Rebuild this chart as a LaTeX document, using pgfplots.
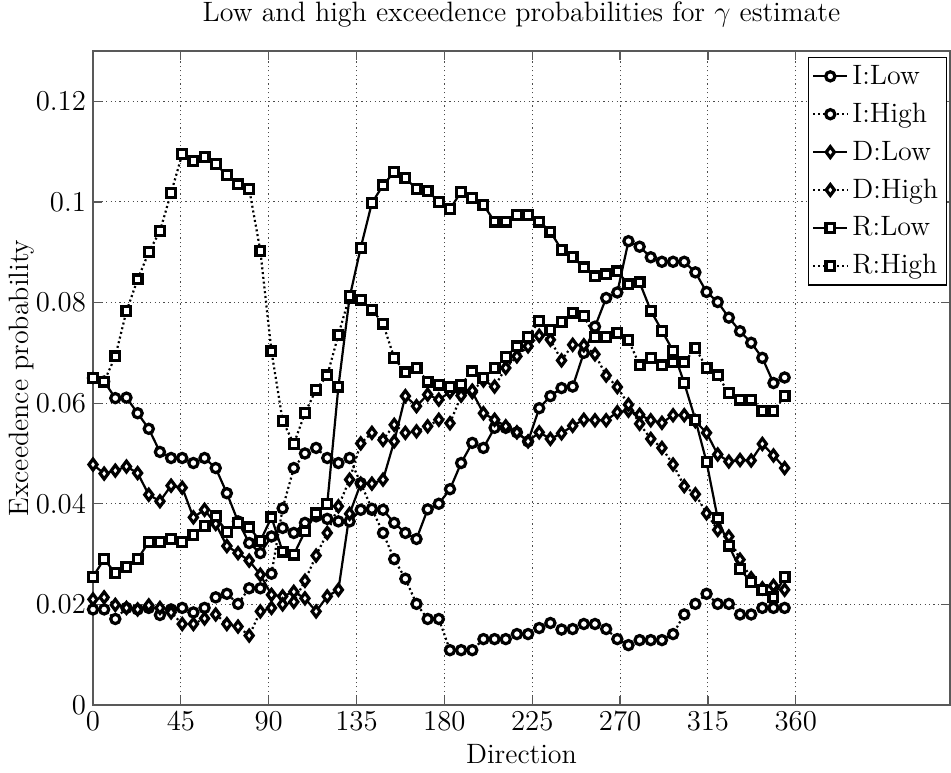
\documentclass[border=0pt]{standalone}
\usepackage{pgfplots}
\usepackage{pgfplotstable}
\pgfplotsset{compat=1.18}
\begin{document}
\pgfplotstableread{
x IL IH DL DH RL RH
0 0.0650 0.0190 0.0478 0.0210 0.0255 0.0650
5.71 0.0643 0.0190 0.0460 0.0214 0.0290 0.0643
11.43 0.0610 0.0171 0.0466 0.0199 0.0262 0.0693
17.14 0.0611 0.0193 0.0474 0.0193 0.0274 0.0783
22.86 0.0580 0.0190 0.0461 0.0190 0.0290 0.0846
28.57 0.0549 0.0193 0.0418 0.0198 0.0324 0.0900
34.29 0.0503 0.0179 0.0405 0.0193 0.0324 0.0942
40 0.0491 0.0190 0.0436 0.0184 0.0330 0.1018
45.71 0.0491 0.0193 0.0432 0.0161 0.0324 0.1095
51.43 0.0481 0.0184 0.0373 0.0161 0.0338 0.1081
57.14 0.0491 0.0193 0.0388 0.0172 0.0356 0.1089
62.86 0.0471 0.0214 0.0360 0.0180 0.0375 0.1075
68.57 0.0421 0.0221 0.0316 0.0161 0.0344 0.1053
74.29 0.0365 0.0201 0.0302 0.0156 0.0362 0.1035
80 0.0322 0.0232 0.0287 0.0138 0.0353 0.1026
85.71 0.0302 0.0232 0.0259 0.0186 0.0326 0.0903
91.43 0.0335 0.0261 0.0219 0.0193 0.0373 0.0703
97.14 0.0352 0.0391 0.0216 0.0200 0.0305 0.0565
102.86 0.0342 0.0471 0.0225 0.0205 0.0299 0.0519
108.57 0.0362 0.0500 0.0212 0.0247 0.0345 0.0580
114.29 0.0375 0.0511 0.0186 0.0297 0.0381 0.0627
120 0.0370 0.0491 0.0216 0.0342 0.0400 0.0655
125.71 0.0365 0.0481 0.0229 0.0395 0.0633 0.0736
131.43 0.0365 0.0491 0.0380 0.0448 0.0810 0.0813
137.14 0.0388 0.0441 0.0440 0.0520 0.0909 0.0806
142.86 0.0388 0.0390 0.0440 0.0541 0.0998 0.0786
148.57 0.0388 0.0342 0.0448 0.0527 0.1033 0.0758
154.29 0.0362 0.0290 0.0524 0.0557 0.1060 0.0690
160 0.0342 0.0251 0.0614 0.0541 0.1047 0.0661
165.71 0.0330 0.0201 0.0594 0.0544 0.1026 0.0670
171.43 0.0389 0.0171 0.0617 0.0554 0.1022 0.0643
177.14 0.0400 0.0171 0.0607 0.0567 0.1000 0.0637
182.86 0.0429 0.0109 0.0622 0.0560 0.0986 0.0632
188.57 0.0481 0.0109 0.0622 0.0615 0.1020 0.0637
194.29 0.0521 0.0109 0.0622 0.0625 0.1008 0.0663
200 0.0511 0.0131 0.0580 0.0645 0.0994 0.0650
205.71 0.0551 0.0131 0.0567 0.0633 0.0961 0.0670
211.43 0.0551 0.0131 0.0554 0.0670 0.0961 0.0692
217.14 0.0542 0.0141 0.0542 0.0693 0.0974 0.0713
222.86 0.0524 0.0141 0.0524 0.0713 0.0974 0.0732
228.57 0.0590 0.0153 0.0542 0.0734 0.0961 0.0763
234.29 0.0614 0.0163 0.0529 0.0726 0.0941 0.0746
240 0.0630 0.0150 0.0540 0.0685 0.0905 0.0761
245.71 0.0633 0.0151 0.0555 0.0716 0.0890 0.0780
251.43 0.0700 0.0161 0.0567 0.0715 0.0870 0.0773
257.14 0.0752 0.0161 0.0566 0.0697 0.0852 0.0732
262.86 0.0809 0.0151 0.0566 0.0655 0.0856 0.0732
268.57 0.0820 0.0131 0.0582 0.0632 0.0862 0.0740
274.29 0.0922 0.0119 0.0585 0.0597 0.0836 0.0726
280 0.0911 0.0129 0.0577 0.0559 0.0840 0.0675
285.71 0.0890 0.0129 0.0566 0.0529 0.0784 0.0690
291.43 0.0881 0.0129 0.0561 0.0511 0.0744 0.0675
297.14 0.0881 0.0141 0.0576 0.0478 0.0704 0.0681
302.86 0.0881 0.0180 0.0576 0.0435 0.0640 0.0681
308.57 0.0860 0.0201 0.0564 0.0419 0.0567 0.0710
314.29 0.0821 0.0221 0.0541 0.0381 0.0483 0.0670
320 0.0801 0.0201 0.0498 0.0348 0.0371 0.0655
325.71 0.0770 0.0201 0.0484 0.0335 0.0317 0.0620
331.43 0.0743 0.0180 0.0487 0.0289 0.0270 0.0607
337.14 0.0720 0.0180 0.0486 0.0252 0.0244 0.0607
342.86 0.0690 0.0193 0.0519 0.0232 0.0229 0.0585
348.57 0.0640 0.0193 0.0496 0.0237 0.0214 0.0585
354.29 0.0651 0.0193 0.0471 0.0229 0.0255 0.0614
}\data
\begin{tikzpicture}
\useasboundingbox (-46.5pt,-33.5pt) rectangle (429pt,352.5pt);
\begin{axis}[
  at={(0pt,0pt)}, anchor=south west,
  scale only axis, width=428.5pt, height=327pt,
  xmin=0, xmax=439, ymin=0, ymax=0.13,
  xtick={0,45,...,360},
  ytick={0,0.02,0.04,0.06,0.08,0.1,0.12},
  scaled y ticks=false,
  yticklabel style={/pgf/number format/fixed},
  tick align=inside,
  major tick length=4.5pt,
  axis line style={black!65, line width=0.6pt},
  every tick/.style={black!65, line width=0.6pt},
  grid=major,
  major grid style={black!70, line width=0.45pt, dash pattern=on 0.6pt off 1.6pt},
  font=\fontsize{14}{16}\selectfont,
  tick label style={font=\fontsize{14}{16}\selectfont},
  title={Low and high exceedence probabilities for $\gamma$ estimate},
  title style={at={(axis description cs:0.5,1)}, anchor=base, yshift=8.5pt, font=\fontsize{14}{16}\selectfont},
  xlabel={Direction},
  xlabel style={at={(axis description cs:0.5,0)}, anchor=base, yshift=-29pt},
  ylabel={Exceedence probability},
  ylabel style={at={(axis description cs:-0.083,0.5)}, anchor=center},
  legend style={at={(0.9962,0.9913)}, anchor=north east, draw=black, line width=0.6pt,
    fill=white, font=\fontsize{14}{16}\selectfont, row sep=3.8pt, inner sep=2pt,
    cells={anchor=west}},
  legend cell align=left,
]
\addplot[black, line width=1.1pt, mark=*, mark size=2.3pt, mark options={solid, fill=white, line width=1.6pt}] table[x=x,y=IL]{\data};
\addlegendentry{I:Low}
\addplot[black, line width=1.1pt, dash pattern=on 1pt off 1.4pt, mark=*, mark size=2.3pt, mark options={solid, fill=white, line width=1.6pt}] table[x=x,y=IH]{\data};
\addlegendentry{I:High}
\addplot[black, line width=1.1pt, mark=diamond*, mark size=2.7pt, mark options={solid, fill=white, line width=1.6pt}] table[x=x,y=DL]{\data};
\addlegendentry{D:Low}
\addplot[black, line width=1.1pt, dash pattern=on 1pt off 1.4pt, mark=diamond*, mark size=2.7pt, mark options={solid, fill=white, line width=1.6pt}] table[x=x,y=DH]{\data};
\addlegendentry{D:High}
\addplot[black, line width=1.1pt, mark=square*, mark size=2.2pt, mark options={solid, fill=white, line width=1.6pt}] table[x=x,y=RL]{\data};
\addlegendentry{R:Low}
\addplot[black, line width=1.1pt, dash pattern=on 1pt off 1.4pt, mark=square*, mark size=2.2pt, mark options={solid, fill=white, line width=1.6pt}] table[x=x,y=RH]{\data};
\addlegendentry{R:High}
\end{axis}
\end{tikzpicture}
\end{document}
